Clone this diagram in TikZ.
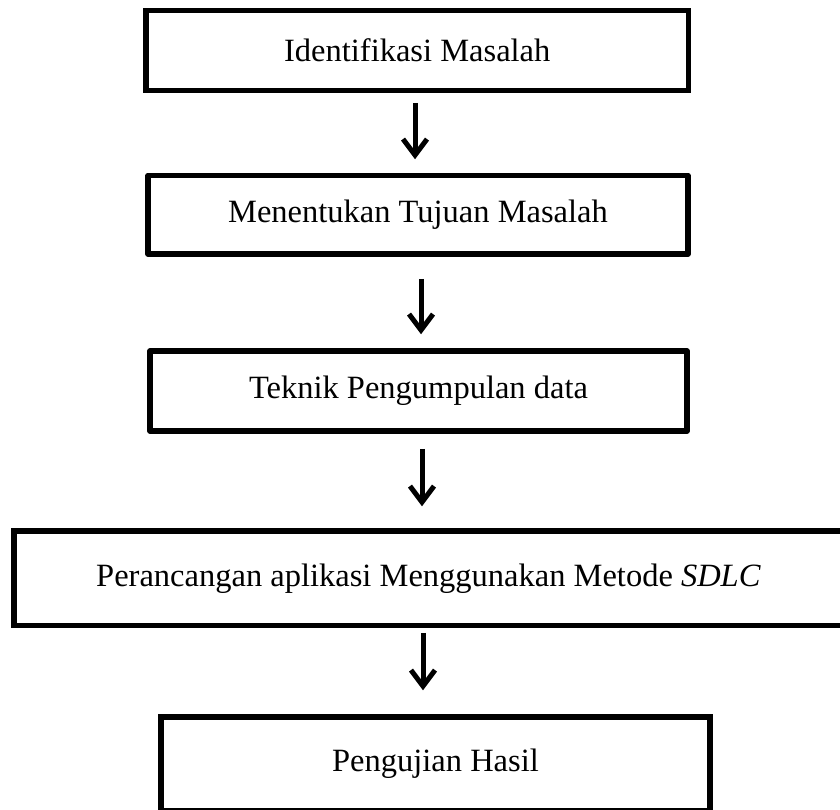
\documentclass[tikz,border=0pt]{standalone}
\usepackage{fontspec}
\setmainfont{Liberation Serif}
\usetikzlibrary{arrows.meta}
\begin{document}
\begin{tikzpicture}[x=1pt,y=-1pt,
  stepbox/.style={draw=black, line width=5.5pt, fill=white, inner sep=0pt,
    align=center, font=\fontsize{32.5}{39}\selectfont},
  flowarrow/.style={draw=black, line width=5pt,
    -{Straight Barb[length=16pt,width=24pt,line width=5pt]}}]
  \useasboundingbox (0,0) rectangle (840,809);
  % process steps
  \node[stepbox, minimum width=542.5pt, minimum height=80pt] (b1) at (417.25,50.5) {Identifikasi Masalah};
  \node[stepbox, line join=round, minimum width=540pt, minimum height=78.5pt] (b2) at (418,214.75) {Menentukan Tujuan Masalah};
  \node[stepbox, line join=round, minimum width=537pt, minimum height=80pt] (b3) at (418.5,391) {Teknik Pengumpulan data};
  \node[stepbox, minimum width=829pt, minimum height=94.5pt] (b4) at (428.5,578.25) {Perancangan aplikasi Menggunakan Metode \textit{SDLC}};
  \node[stepbox, minimum width=549pt, minimum height=94pt] (b5) at (435.5,764) {Pengujian Hasil};
  % arrows between steps
  \draw[flowarrow] ([xshift=-2.25pt,yshift=-9.5pt]b1.south) -- ([xshift=-3pt,yshift=13.5pt]b2.north);
  \draw[flowarrow] ([xshift=3pt,yshift=-22pt]b2.south) -- ([xshift=2.5pt,yshift=14pt]b3.north);
  \draw[flowarrow] ([xshift=3.5pt,yshift=-15pt]b3.south) -- ([xshift=-6.5pt,yshift=22pt]b4.north);
  \draw[flowarrow] ([xshift=-5.5pt,yshift=-4.5pt]b4.south) -- ([xshift=-12.5pt,yshift=24pt]b5.north);
\end{tikzpicture}
\end{document}
